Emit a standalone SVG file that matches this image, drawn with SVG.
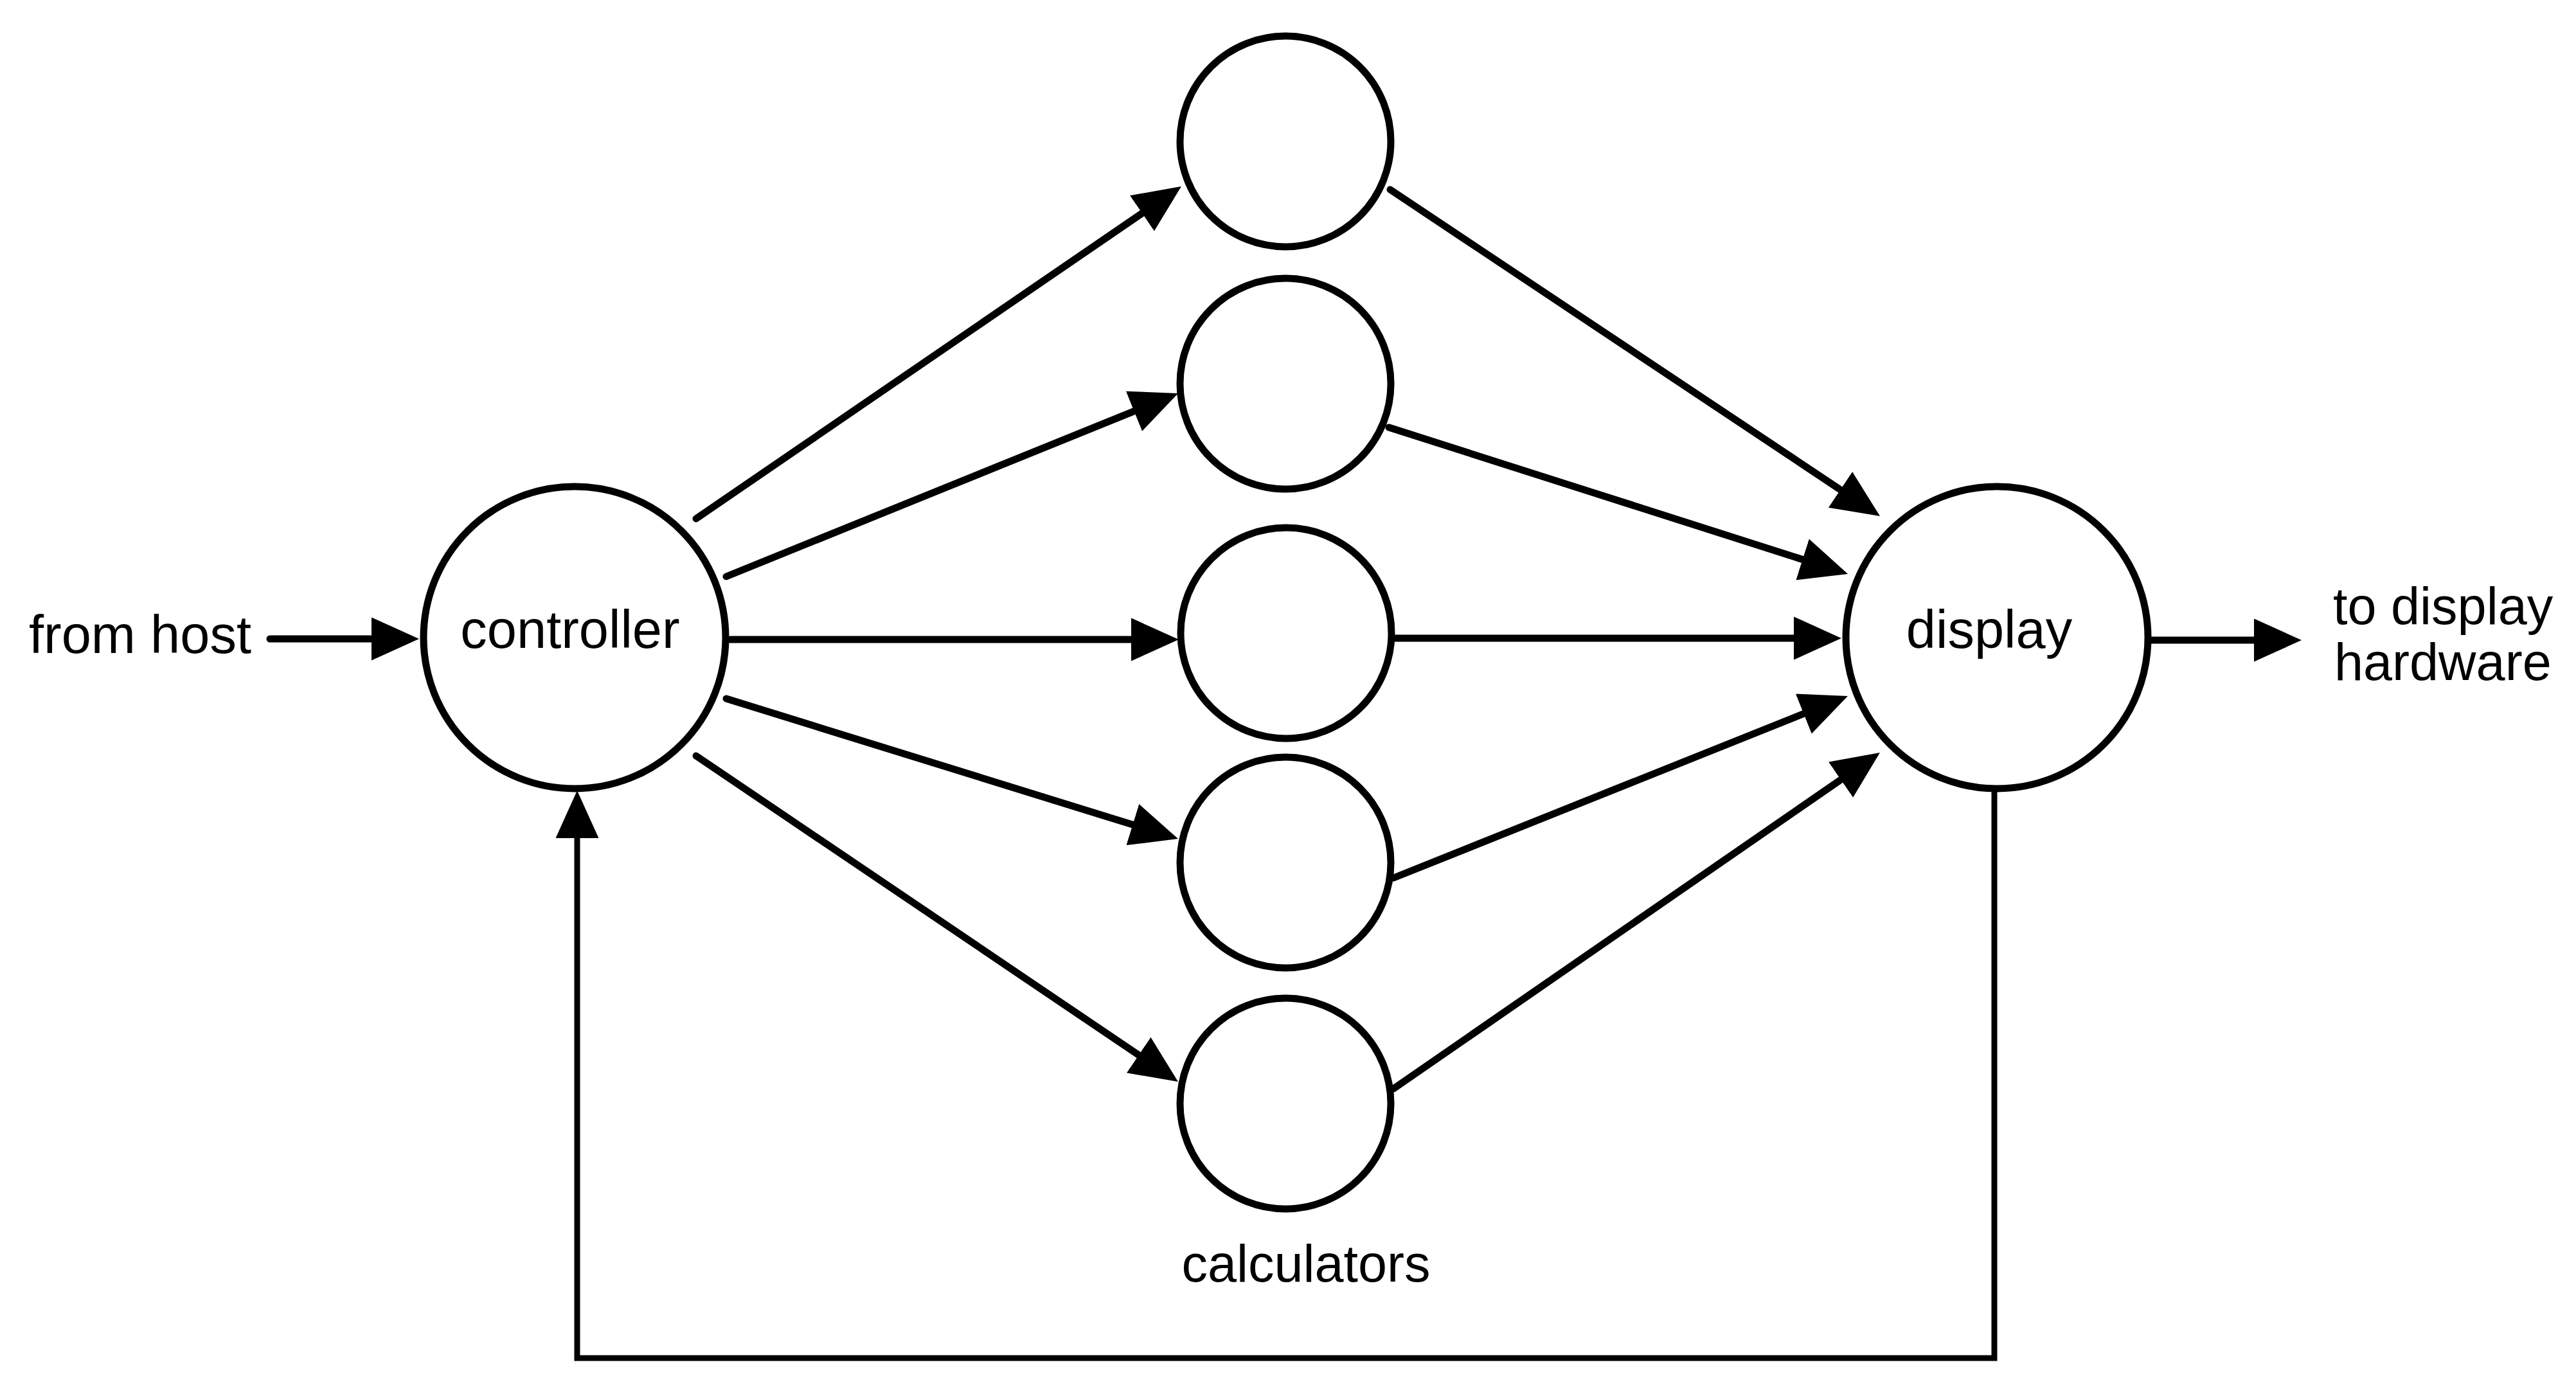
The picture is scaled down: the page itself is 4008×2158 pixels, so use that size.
<svg xmlns="http://www.w3.org/2000/svg" width="4008" height="2158" viewBox="0 0 4008 2158">
<style>
.node{fill:#fff;stroke:#000;stroke-width:11}
.ln{fill:none;stroke:#000;stroke-width:11;stroke-linecap:round;marker-end:url(#ah)}
.fb{fill:none;stroke:#000;stroke-width:9;stroke-linejoin:miter;marker-end:url(#ah)}
text{font-family:"Liberation Sans",Arial,Helvetica,sans-serif;font-size:83px;fill:#000}
</style>
<defs>
<marker id="ah" markerUnits="userSpaceOnUse" markerWidth="76" markerHeight="68" refX="54" refY="33.5" orient="auto">
<path d="M0,0 L74,33.5 L0,67 Z" fill="#000"/>
</marker>
</defs>
<rect width="4008" height="2158" fill="#fff"/>
<g id="connectors">
<line class="ln" x1="420" y1="994" x2="632" y2="994"/>
<line class="ln" x1="1083" y1="807" x2="1821.5" y2="301.3"/>
<line class="ln" x1="1130" y1="897" x2="1814.5" y2="619.5"/>
<line class="ln" x1="1136" y1="995" x2="1814" y2="995"/>
<line class="ln" x1="1130" y1="1087" x2="1813.9" y2="1299.1"/>
<line class="ln" x1="1083" y1="1176" x2="1816.4" y2="1671.8"/>
<line class="ln" x1="2163" y1="295" x2="2908.4" y2="791.9"/>
<line class="ln" x1="2161" y1="665" x2="2856" y2="886.9"/>
<line class="ln" x1="2166" y1="993" x2="2845" y2="993"/>
<line class="ln" x1="2168" y1="1366" x2="2856.4" y2="1090.4"/>
<line class="ln" x1="2168" y1="1694" x2="2908.5" y2="1182.4"/>
<line class="ln" x1="3343" y1="996" x2="3561" y2="996"/>
<polyline class="fb" points="3103,1229 3103,2113 898,2113 898,1250"/>
</g>
<g id="controller">
<circle class="node" cx="894" cy="992" r="235"/>
<text x="887" y="1008" text-anchor="middle">controller</text>
</g>
<g id="calc1"><circle class="node" cx="2000" cy="220" r="164"/></g>
<g id="calc2"><circle class="node" cx="2000" cy="597" r="164"/></g>
<g id="calc3"><circle class="node" cx="2001" cy="985" r="164"/></g>
<g id="calc4"><circle class="node" cx="2000" cy="1342" r="164"/></g>
<g id="calc5"><circle class="node" cx="2000" cy="1717" r="164"/></g>
<g id="display">
<circle class="node" cx="3107" cy="992" r="235"/>
<text x="3095" y="1008" text-anchor="middle">display</text>
</g>
<g id="labels">
<text x="45" y="1016">from host</text>
<text x="2032" y="1994" text-anchor="middle" style="font-size:81px">calculators</text>
<text x="3630" y="971" style="font-size:81px">to display</text>
<text x="3632" y="1058" style="font-size:81px">hardware</text>
</g>
</svg>
